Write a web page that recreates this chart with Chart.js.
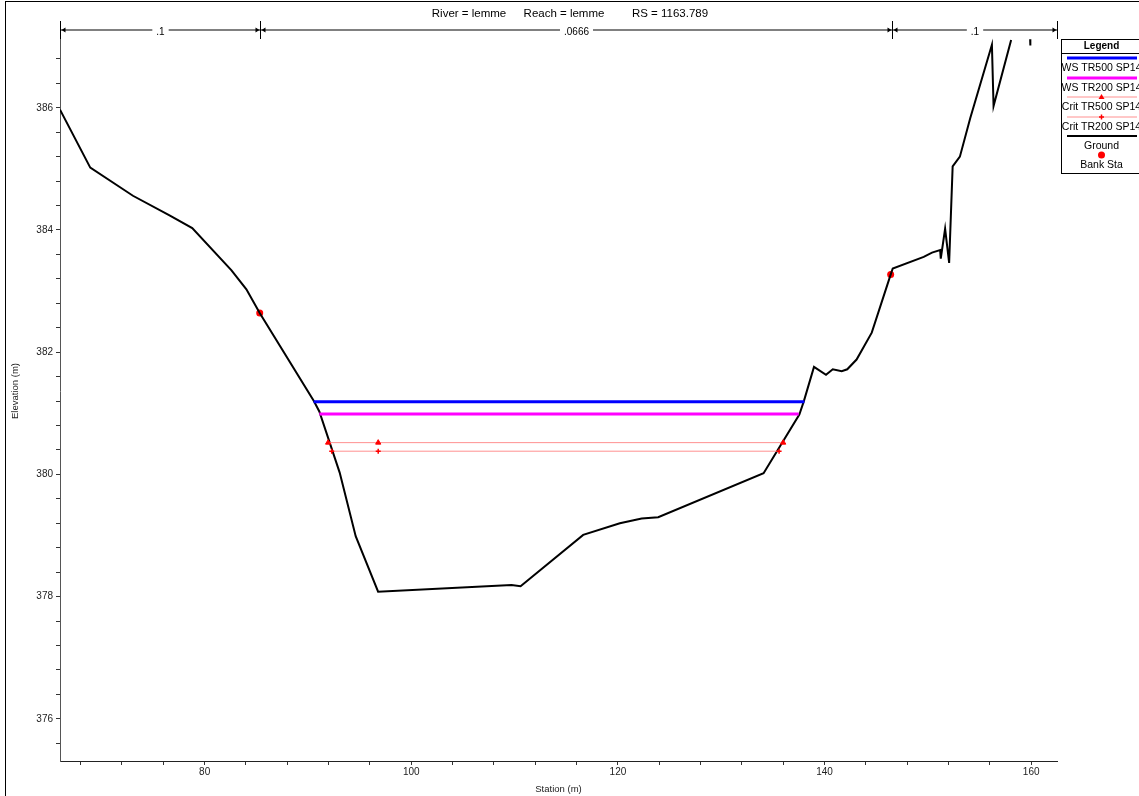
<!DOCTYPE html>
<html>
<head>
<meta charset="utf-8">
<script src="https://cdn.jsdelivr.net/npm/chart.js@4/dist/chart.umd.min.js"></script>
<style>
  body { margin: 0; background: #fff; }
  canvas { display: block; }
</style>
</head>
<body>
<canvas id="chart" width="1139" height="796"></canvas>
<script>
// ground profile (station / elevation)
const groundSta = [66.0, 68.93, 73.06, 76.6, 78.8, 82.6, 84.04, 85.33, 90.57, 91.1, 93.07, 94.62, 96.79,
    109.7, 110.58, 116.64, 120.19, 122.3, 123.9, 134.1, 137.56, 138.0, 138.98, 140.14, 140.8, 141.66,
    142.2, 143.1, 144.57, 146.4, 146.6, 149.6, 150.4, 151.19, 151.25, 151.67, 152.06, 152.4, 153.1,
    154.1, 156.2, 156.36, 158.06, null, 159.9, 159.92];
const groundElev = [385.97, 385.02, 384.56, 384.24, 384.03, 383.34, 383.03, 382.64, 381.2, 381.03, 380.03,
    378.99, 378.08, 378.19, 378.17, 379.01, 379.2, 379.28, 379.3, 380.02, 380.98, 381.2, 381.76, 381.63,
    381.72, 381.69, 381.72, 381.88, 382.32, 383.27, 383.37, 383.56, 383.63, 383.67, 383.53, 384.02,
    383.46, 385.04, 385.2, 385.83, 387.03, 386.03, 387.11, null, 387.12, 387.02];

const bankSta = [85.33, 146.4];
const bankElev = [382.64, 383.27];

const wsTR500Sta = [90.55, 138.05];
const wsTR500Elev = [381.19, 381.19];
const wsTR200Sta = [91.1, 137.5];
const wsTR200Elev = [380.99, 380.99];
const critTR500Sta = [91.95, 96.8, 136.0];
const critTR500Elev = [380.52, 380.52, 380.52];
const critTR200Sta = [92.3, 96.8, 135.6];
const critTR200Elev = [380.38, 380.38, 380.38];

// Manning's n breaks along the top
const nBreaks = [66.0, 85.4, 146.5, 162.5];
const nValues = ['.1', '.0666', '.1'];

const xTickValues = [];
for (let v = 68; v <= 160; v += 4) xTickValues.push(v);
const yTickValues = [];
for (let i = 0; i <= 28; i++) yTickValues.push(Math.round((375.6 + i * 0.4) * 10) / 10);

const titleParts = ['River = lemme', 'Reach = lemme', 'RS = 1163.789'];
const FONT = 'Arial, "Liberation Sans", sans-serif';

function pts(xs, ys) {
    return xs.map((x, i) => (x === null ? { x: null, y: null } : { x: x, y: ys[i] }));
}

const datasets = [
    { label: 'WS TR500 SP14', data: pts(wsTR500Sta, wsTR500Elev), borderColor: '#0000ff', borderWidth: 3, pointRadius: 0 },
    { label: 'WS TR200 SP14', data: pts(wsTR200Sta, wsTR200Elev), borderColor: '#ff00ff', borderWidth: 3, pointRadius: 0 },
    { label: 'Crit TR500 SP14', data: pts(critTR500Sta, critTR500Elev), borderColor: '#ff9090', borderWidth: 1,
      pointStyle: 'triangle', pointRadius: 3, pointBackgroundColor: '#ff0000', pointBorderColor: '#ff0000', pointBorderWidth: 1 },
    { label: 'Crit TR200 SP14', data: pts(critTR200Sta, critTR200Elev), borderColor: '#ff9090', borderWidth: 1,
      pointStyle: 'cross', pointRadius: 2.5, pointBackgroundColor: '#ff0000', pointBorderColor: '#ff0000', pointBorderWidth: 1.5 },
    { label: 'Ground', data: pts(groundSta, groundElev), borderColor: '#000000', borderWidth: 2, pointRadius: 0, spanGaps: false },
    { label: 'Bank Sta', data: pts(bankSta, bankElev), showLine: false, pointRadius: 3.5, pointBorderWidth: 0,
      pointBackgroundColor: '#ff0000', pointBorderColor: '#ff0000', borderColor: '#ff0000' }
];
datasets.forEach(d => { d.showLine = d.showLine !== false; d.fill = false; d.tension = 0; });

// frame, title, n-value bands and legend
const decorations = {
    id: 'decorations',
    beforeDraw(chart) {
        const ctx = chart.ctx;
        ctx.save();
        ctx.fillStyle = '#fff';
        ctx.fillRect(0, 0, chart.width, chart.height);
        ctx.strokeStyle = '#000';
        ctx.lineWidth = 1;
        ctx.strokeRect(5.5, 1.5, chart.width + 20, chart.height + 20);
        ctx.restore();
    },
    afterDraw(chart) {
        const ctx = chart.ctx;
        const xs = chart.scales.x;
        ctx.save();

        ctx.fillStyle = '#000';
        ctx.font = '11.5px ' + FONT;
        ctx.textAlign = 'center';
        ctx.textBaseline = 'middle';
        ctx.fillText(titleParts[0], 469, 14);
        ctx.fillText(titleParts[1], 564, 14);
        ctx.fillText(titleParts[2], 670, 14);

        // n-value bands
        const yb = 30;
        const px = nBreaks.map(v => Math.round(xs.getPixelForValue(v)) + 0.5);
        ctx.strokeStyle = '#808080';
        ctx.lineWidth = 2;
        ctx.beginPath();
        ctx.moveTo(px[0], yb);
        ctx.lineTo(px[px.length - 1], yb);
        ctx.stroke();
        ctx.strokeStyle = '#000';
        ctx.lineWidth = 1;
        px.forEach(p => {
            ctx.beginPath();
            ctx.moveTo(p, 21);
            ctx.lineTo(p, 39);
            ctx.stroke();
        });
        for (let i = 0; i < nValues.length; i++) {
            const a = px[i], b = px[i + 1];
            ctx.fillStyle = '#000';
            ctx.beginPath();
            ctx.moveTo(a + 1, yb); ctx.lineTo(a + 5, yb - 2.5); ctx.lineTo(a + 5, yb + 2.5); ctx.closePath();
            ctx.fill();
            ctx.beginPath();
            ctx.moveTo(b - 1, yb); ctx.lineTo(b - 5, yb - 2.5); ctx.lineTo(b - 5, yb + 2.5); ctx.closePath();
            ctx.fill();
            const mid = (a + b) / 2;
            ctx.font = '10px ' + FONT;
            const w = ctx.measureText(nValues[i]).width;
            ctx.fillStyle = '#fff';
            ctx.fillRect(mid - w / 2 - 4, yb - 3, w + 8, 6);
            ctx.fillStyle = '#000';
            ctx.fillText(nValues[i], mid, yb + 2);
        }

        // legend box
        const lx = 1061.5, ly = 39.5, lw = 80, lh = 134;
        const cx = lx + lw / 2;
        ctx.fillStyle = '#fff';
        ctx.fillRect(lx, ly, lw, lh);
        ctx.strokeStyle = '#000';
        ctx.strokeRect(lx, ly, lw, lh);
        ctx.beginPath();
        ctx.moveTo(lx, 53.5); ctx.lineTo(lx + lw, 53.5);
        ctx.stroke();
        ctx.fillStyle = '#000';
        ctx.font = 'bold 10px ' + FONT;
        ctx.fillText('Legend', cx, 46);

        const rows = [58, 78, 97, 117, 136, 155];
        datasets.forEach((d, i) => {
            const y = rows[i];
            if (d.showLine) {
                ctx.strokeStyle = d.borderColor;
                ctx.lineWidth = d.borderWidth;
                ctx.beginPath();
                ctx.moveTo(1067, y); ctx.lineTo(1137, y);
                ctx.stroke();
            }
            if (d.pointRadius > 0) {
                ctx.fillStyle = d.pointBackgroundColor;
                ctx.strokeStyle = d.pointBorderColor;
                ctx.lineWidth = 1.5;
                ctx.beginPath();
                if (d.pointStyle === 'triangle') {
                    ctx.moveTo(cx, y - 3); ctx.lineTo(cx + 3, y + 2); ctx.lineTo(cx - 3, y + 2); ctx.closePath();
                    ctx.fill();
                } else if (d.pointStyle === 'cross') {
                    ctx.moveTo(cx - 2.5, y); ctx.lineTo(cx + 2.5, y);
                    ctx.moveTo(cx, y - 2.5); ctx.lineTo(cx, y + 2.5);
                    ctx.stroke();
                } else {
                    ctx.arc(cx, y, 3.5, 0, Math.PI * 2);
                    ctx.fill();
                }
            }
            ctx.fillStyle = '#000';
            ctx.font = '10.5px ' + FONT;
            ctx.fillText(d.label, cx, y + 10);
        });

        ctx.restore();
    }
};

const ctx = document.getElementById('chart').getContext('2d');
new Chart(ctx, {
    type: 'scatter',
    data: { datasets: datasets },
    options: {
        responsive: false,
        animation: false,
        devicePixelRatio: 1,
        layout: { padding: { left: 0, top: 21, right: 82, bottom: 0 } },
        plugins: {
            legend: { display: false },
            tooltip: { enabled: false }
        },
        scales: {
            x: {
                type: 'linear',
                min: 66.0,
                max: 162.5,
                afterFit: (s) => { s.height = 35; },
                afterBuildTicks: (s) => { s.ticks = xTickValues.map(v => ({ value: v })); },
                grid: { drawOnChartArea: false, drawTicks: true, tickLength: 4, color: '#333' },
                border: { display: true, color: '#222', width: 1 },
                ticks: {
                    autoSkip: false, maxRotation: 0, padding: 1, color: '#222',
                    font: { family: FONT, size: 10 },
                    callback: (v) => (v % 20 === 0 ? String(v) : '')
                },
                title: { display: true, text: 'Station (m)', color: '#222', font: { family: FONT, size: 9.5 }, padding: { top: 0, bottom: 1 } }
            },
            y: {
                type: 'linear',
                min: 375.31,
                max: 387.42,
                afterFit: (s) => { s.width = 60; },
                afterBuildTicks: (s) => { s.ticks = yTickValues.map(v => ({ value: v })); },
                grid: { drawOnChartArea: false, drawTicks: true, tickLength: 4, color: '#333' },
                border: { display: true, color: '#555', width: 1 },
                ticks: {
                    autoSkip: false, padding: 3, color: '#222',
                    font: { family: FONT, size: 10 },
                    callback: (v) => (Math.abs(v / 2 - Math.round(v / 2)) < 1e-6 ? v.toFixed(0) : '')
                },
                title: { display: true, text: 'Elevation (m)', color: '#222', font: { family: FONT, size: 9.5 }, padding: { top: 10, bottom: 0 } }
            }
        }
    },
    plugins: [decorations]
});
</script>
</body>
</html>
